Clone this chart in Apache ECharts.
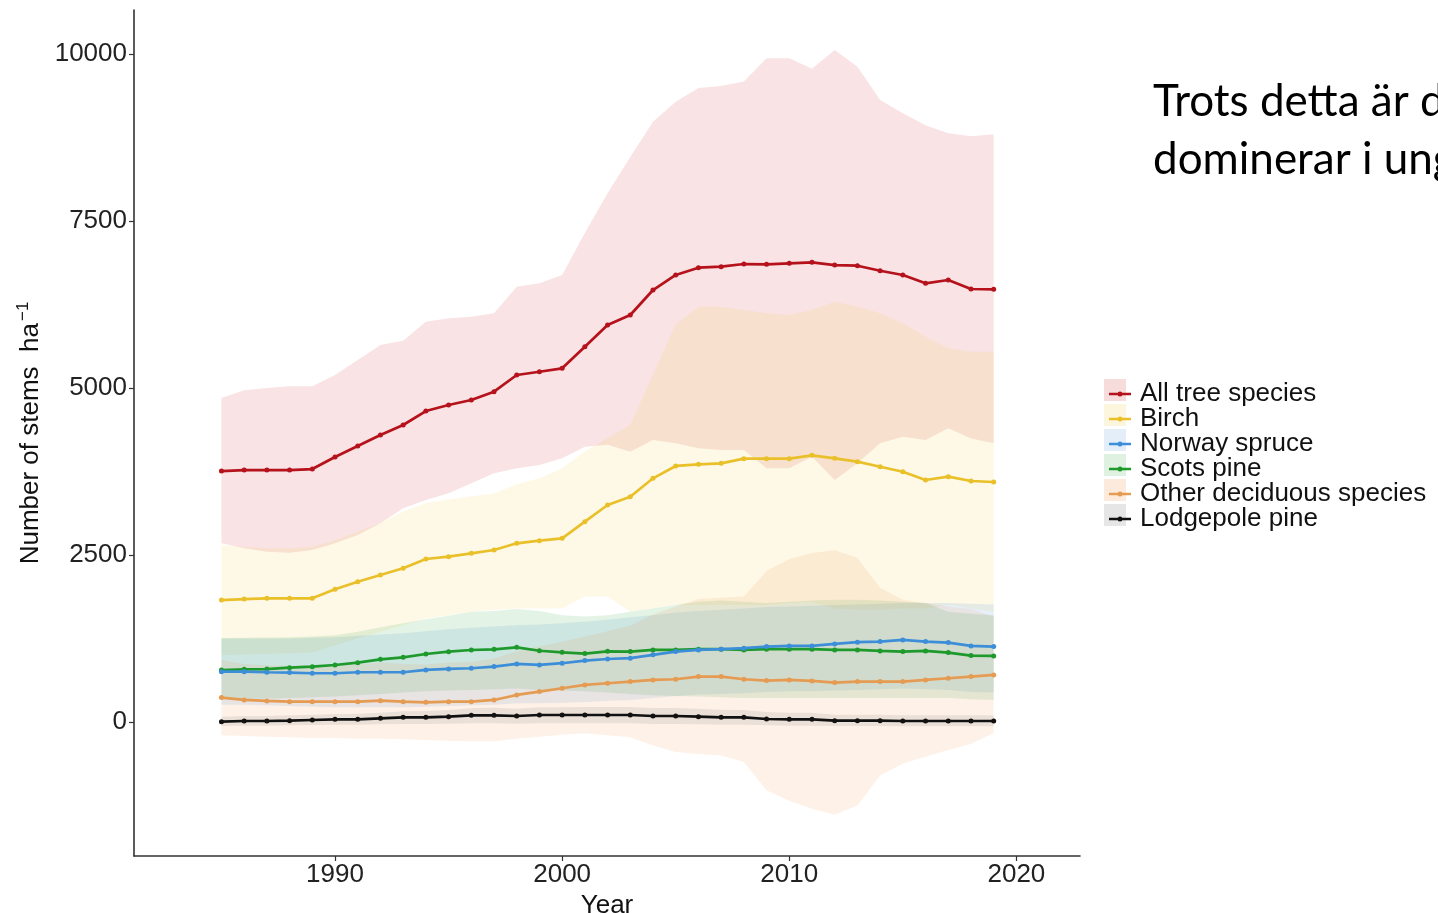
<!DOCTYPE html>
<html>
<head>
<meta charset="utf-8">
<script src="https://cdn.jsdelivr.net/npm/echarts@6/dist/echarts.min.js"></script>
<style>
html,body{margin:0;padding:0;background:#ffffff;}
#chart{width:1438px;height:913px;}
</style>
</head>
<body>
<div id="chart"></div>
<script>
// ---- data ----
const years = [1985,1986,1987,1988,1989,1990,1991,1992,1993,1994,1995,1996,1997,1998,1999,2000,2001,2002,2003,2004,2005,2006,2007,2008,2009,2010,2011,2012,2013,2014,2015,2016,2017,2018,2019];

const seriesNames = ['All tree species','Birch','Norway spruce','Scots pine','Other deciduous species','Lodgepole pine'];

const allMean  = [3757,3772,3772,3772,3787,3967,4132,4296,4446,4655,4745,4820,4945,5195,5244,5295,5619,5943,6093,6467,6692,6801,6816,6856,6851,6866,6881,6841,6831,6756,6692,6567,6617,6482,6477];
const allLow   = [2675,2600,2550,2535,2575,2675,2800,2975,3200,3323,3423,3573,3723,3798,3847,3947,4121,4150,4046,4222,4172,4097,4072,4072,3798,3798,3972,3623,3872,4172,4271,4222,4396,4246,4172];
const allHigh  = [4850,4965,5000,5025,5025,5195,5420,5644,5709,5993,6043,6068,6120,6517,6567,6692,7320,7914,8460,8985,9286,9490,9520,9590,9935,9935,9780,10060,9810,9310,9115,8935,8815,8770,8800];

const birchMean = [1826,1841,1851,1851,1851,1986,2100,2200,2301,2440,2475,2525,2575,2675,2715,2750,2999,3249,3373,3648,3833,3857,3872,3942,3942,3942,3992,3947,3897,3822,3747,3623,3673,3608,3593];
const birchLow  = [1000,1010,1020,1030,1040,1150,1250,1350,1450,1550,1600,1650,1680,1700,1700,1700,1880,1880,1650,1700,1750,1750,1750,1750,1750,1780,1800,1700,1680,1680,1700,1700,1750,1700,1650];
const birchHigh = [2650,2620,2600,2600,2620,2720,2850,2980,3150,3280,3330,3380,3420,3560,3650,3800,4050,4250,4450,5200,5950,6217,6217,6168,6120,6093,6168,6292,6217,6120,5969,5768,5594,5544,5544];

const spruceMean = [754,754,745,740,730,730,745,745,745,780,795,805,830,870,855,880,920,943,955,1005,1054,1079,1090,1105,1129,1139,1139,1169,1195,1204,1229,1204,1189,1139,1129];
const spruceLow  = [260,260,250,240,230,220,220,220,220,230,240,250,260,280,280,290,300,320,330,360,390,410,420,430,450,460,460,470,480,490,500,490,480,450,440];
const spruceHigh = [1250,1250,1250,1250,1260,1270,1290,1310,1330,1360,1390,1410,1430,1450,1460,1480,1500,1530,1570,1600,1640,1660,1680,1700,1720,1730,1740,1750,1760,1770,1780,1780,1780,1770,1760];

const pineMean = [778,788,793,813,828,853,888,938,968,1018,1053,1078,1088,1118,1067,1043,1025,1058,1054,1079,1079,1090,1090,1079,1090,1090,1090,1079,1079,1064,1054,1064,1039,994,989];
const pineLow  = [340,345,350,360,370,380,400,420,440,460,470,480,490,500,480,470,460,440,420,400,390,380,370,360,360,360,360,360,360,360,360,360,360,340,330];
const pineHigh = [1257,1260,1265,1270,1280,1300,1350,1420,1480,1540,1590,1650,1660,1690,1660,1600,1580,1600,1650,1700,1750,1800,1820,1800,1780,1800,1820,1830,1830,1820,1800,1780,1650,1620,1600];

const otherMean = [365,330,315,305,305,305,305,320,305,295,305,305,330,405,455,505,555,580,605,630,640,680,680,640,620,630,615,590,605,605,605,630,655,680,705];
const otherLow  = [-200,-210,-220,-230,-240,-240,-250,-250,-260,-270,-280,-290,-290,-250,-220,-190,-170,-200,-230,-350,-450,-480,-500,-600,-1020,-1180,-1300,-1390,-1250,-800,-620,-520,-420,-330,-165];
const otherHigh = [930,870,850,840,850,850,860,890,870,860,890,900,950,1060,1130,1200,1280,1360,1440,1610,1730,1840,1860,1880,2260,2440,2530,2570,2460,2010,1830,1780,1730,1690,1575];

const lodgeMean = [5,15,15,20,30,40,40,55,70,70,80,100,100,90,105,105,105,105,105,90,90,80,70,70,45,40,40,20,20,20,15,15,15,15,15];
const lodgeLow  = [-60,-55,-55,-50,-45,-40,-40,-35,-30,-30,-25,-20,-20,-25,-20,-20,-20,-20,-20,-30,-30,-35,-40,-40,-50,-55,-55,-60,-60,-60,-65,-65,-65,-65,-65];
const lodgeHigh = [80,90,90,100,110,120,125,140,160,165,180,210,215,200,220,220,225,225,225,210,210,200,185,180,150,140,140,110,110,110,100,100,100,100,100];

const yTicks = [0,2500,5000,7500,10000];
const xTicks = [1990,2000,2010,2020];

// ---- styles ----
const FONT = '"Liberation Sans", Arial, sans-serif';
const lineColors = ['#B5121B','#E9C02A','#3D8ED8','#1E9A2C','#E59B52','#111111'];
const bandFills  = ['rgba(210,40,50,0.13)','rgba(245,200,40,0.11)','rgba(60,140,215,0.13)','rgba(40,165,60,0.13)','rgba(240,150,80,0.13)','rgba(0,0,0,0.07)'];
const keyFills   = ['#F7DCDC','#FDF6DE','#E3EEF8','#DFF1E1','#FCEBDD','#E6E6E6'];
const keyIcon = 'path://M0,2 L22,2 L22,4.6 L0,4.6 Z M8.5,3.3 A2.5,2.5 0 1,1 13.5,3.3 A2.5,2.5 0 1,1 8.5,3.3 Z';

const means = [allMean, birchMean, spruceMean, pineMean, otherMean, lodgeMean];
const lows  = [allLow, birchLow, spruceLow, pineLow, otherLow, lodgeLow];
const highs = [allHigh, birchHigh, spruceHigh, pineHigh, otherHigh, lodgeHigh];

function bandSeries(idx) {
  const low = lows[idx], high = highs[idx];
  return {
    type: 'custom',
    name: seriesNames[idx] + ' interval',
    coordinateSystem: 'cartesian2d',
    silent: true,
    z: 1,
    data: [[years[0], low[0]]],
    renderItem: function (params, api) {
      const pts = [];
      for (let i = 0; i < years.length; i++) pts.push(api.coord([years[i], high[i]]));
      for (let i = years.length - 1; i >= 0; i--) pts.push(api.coord([years[i], low[i]]));
      return { type: 'polygon', shape: { points: pts }, style: { fill: bandFills[idx] } };
    }
  };
}

function lineSeries(idx) {
  return {
    type: 'line',
    name: seriesNames[idx],
    z: 5 + (5 - idx),
    data: years.map((y, i) => [y, means[idx][i]]),
    showSymbol: true,
    symbol: 'circle',
    symbolSize: 5,
    lineStyle: { color: lineColors[idx], width: 2.7 },
    itemStyle: { color: lineColors[idx] },
    emphasis: { disabled: true }
  };
}

const series = [];
for (let i = 0; i < 6; i++) series.push(bandSeries(i));
for (let i = 5; i >= 0; i--) series.push(lineSeries(i));

const legendTop = 376;
const legendStep = 25;
const keyRects = seriesNames.map((n, i) => ({
  type: 'rect',
  z: 0,
  shape: { x: 1104, y: legendTop + i * legendStep + 3, width: 22, height: 22 },
  style: { fill: keyFills[i] }
}));

const plainNum = v => String(v);

const chart = echarts.init(document.getElementById('chart'), null, { renderer: 'canvas' });
chart.setOption({
  animation: false,
  backgroundColor: '#ffffff',
  textStyle: { fontFamily: FONT },
  grid: { left: 134, right: 358, top: 10, bottom: 57, containLabel: false, outerBoundsMode: 'none' },
  xAxis: {
    type: 'value',
    min: 1981.15,
    max: 2022.8,
    name: 'Year',
    nameLocation: 'middle',
    nameGap: 27,
    nameTextStyle: { fontSize: 26, color: '#111', fontFamily: FONT },
    axisLine: { show: true, onZero: false, lineStyle: { color: '#333', width: 1.6 } },
    axisTick: { show: true, length: 5, lineStyle: { color: '#333', width: 1.2 }, customValues: xTicks },
    axisLabel: { fontSize: 26, color: '#222', margin: 6, customValues: xTicks, fontFamily: FONT, formatter: plainNum },
    splitLine: { show: false }
  },
  yAxis: {
    type: 'value',
    min: -2006,
    max: 10659,
    name: '{n|Number of stems  ha}{s|−1}',
    nameLocation: 'middle',
    nameRotate: 90,
    nameGap: 70,
    nameTextStyle: {
      fontFamily: FONT,
      rich: {
        n: { fontSize: 26, color: '#111', lineHeight: 32, fontFamily: FONT },
        s: { fontSize: 17, color: '#111', verticalAlign: 'top', lineHeight: 20, fontFamily: FONT, padding: [0, 0, 0, 2] }
      }
    },
    axisLine: { show: true, onZero: false, lineStyle: { color: '#333', width: 1.6 } },
    axisTick: { show: true, length: 5, lineStyle: { color: '#333', width: 1.2 }, customValues: yTicks },
    axisLabel: { fontSize: 26, color: '#222', margin: 7, customValues: yTicks, fontFamily: FONT, formatter: plainNum },
    splitLine: { show: false }
  },
  legend: {
    orient: 'vertical',
    left: 1104,
    top: legendTop,
    itemWidth: 22,
    itemHeight: 6,
    itemGap: -1,
    selectedMode: false,
    data: seriesNames.map(n => ({ name: n, icon: keyIcon })),
    textStyle: { fontSize: 26, lineHeight: legendStep, color: '#111', fontFamily: FONT, padding: [0, 0, 0, 4] }
  },
  graphic: keyRects.concat([
    {
      type: 'text',
      left: 1153,
      top: 73,
      z: 10,
      style: {
        text: 'Trots detta är de\ndominerar i ung',
        font: '44px Lato, "Open Sans", sans-serif',
        fill: '#000',
        lineHeight: 58
      }
    }
  ]),
  series: series
});
</script>
</body>
</html>
